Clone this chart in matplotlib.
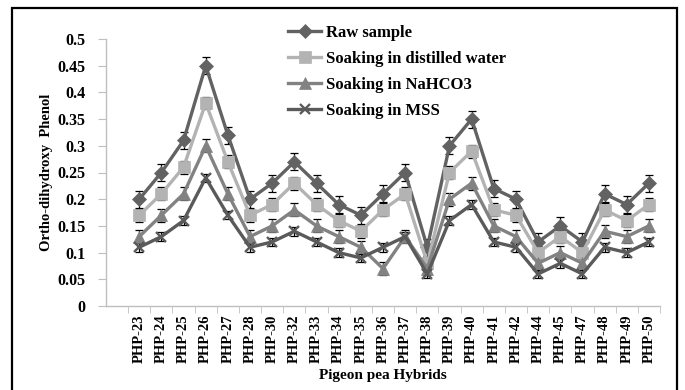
#!/usr/bin/env python3

"""
ORTHO-DIHYDROXY PHENOL IN PIGEON PEA HYBRIDS

(line chart with error bars, four soaking treatments)
"""

import matplotlib

matplotlib.use("Agg")
import matplotlib.pyplot as plt
from matplotlib.patches import Rectangle

hybrids = [
    "PHP-23", "PHP-24", "PHP-25", "PHP-26", "PHP-27", "PHP-28", "PHP-30", "PHP-32",
    "PHP-33", "PHP-34", "PHP-35", "PHP-36", "PHP-37", "PHP-38", "PHP-39", "PHP-40",
    "PHP-41", "PHP-42", "PHP-44", "PHP-45", "PHP-47", "PHP-48", "PHP-49", "PHP-50",
]

raw_sample = [0.20, 0.25, 0.31, 0.45, 0.32, 0.20, 0.23, 0.27, 0.23, 0.19, 0.17, 0.21,
              0.25, 0.11, 0.30, 0.35, 0.22, 0.20, 0.12, 0.15, 0.12, 0.21, 0.19, 0.23]
distilled = [0.17, 0.21, 0.26, 0.38, 0.27, 0.17, 0.19, 0.23, 0.19, 0.16, 0.14, 0.18,
             0.21, 0.08, 0.25, 0.29, 0.18, 0.17, 0.10, 0.13, 0.10, 0.18, 0.16, 0.19]
nahco3 = [0.13, 0.17, 0.21, 0.30, 0.21, 0.13, 0.15, 0.18, 0.15, 0.13, 0.11, 0.07,
          0.13, 0.07, 0.20, 0.23, 0.15, 0.13, 0.08, 0.10, 0.08, 0.14, 0.13, 0.15]
mss = [0.11, 0.13, 0.16, 0.24, 0.17, 0.11, 0.12, 0.14, 0.12, 0.10, 0.09, 0.11,
       0.13, 0.06, 0.16, 0.19, 0.12, 0.11, 0.06, 0.08, 0.06, 0.11, 0.10, 0.12]

# (label, values, error, colour, marker, marker size)
series = [
    ("Raw sample", raw_sample, 0.016, "#626262", "D", 7),
    ("Soaking in distilled water", distilled, 0.012, "#b3b3b3", "s", 8.5),
    ("Soaking in NaHCO3", nahco3, 0.012, "#828282", "^", 8.5),
    ("Soaking in MSS", mss, 0.008, "#5a5a5a", "x", 7),
]

serif = ["Liberation Serif", "DejaVu Serif"]
plt.rcParams["font.family"] = serif
plt.rcParams["font.weight"] = "bold"

fig = plt.figure(figsize=(6.85, 3.9), dpi=100)
ax = fig.add_axes([106 / 685, 1 - 306 / 390, 554 / 685, 267 / 390])

x = list(range(len(hybrids)))
for label, vals, err, colour, marker, ms in series:
    ax.errorbar(x, vals, yerr=err, fmt="none", ecolor="black", elinewidth=0.9,
                capsize=3, capthick=0.9, zorder=2)
    ax.plot(x, vals, color=colour, linewidth=2.4, marker=marker, markersize=ms,
            markeredgewidth=1.7 if marker == "x" else 0.5, markeredgecolor=colour,
            label=label, zorder=3)

ax.set_xlim(-1.5, len(hybrids) - 0.5)
ax.set_ylim(0, 0.5)
ax.set_yticks([i * 0.05 for i in range(11)])
ax.set_yticklabels(["0", "0.05", "0.1", "0.15", "0.2", "0.25", "0.3", "0.35",
                    "0.4", "0.45", "0.5"], fontsize=11.5, fontweight="bold")
ax.set_xticks(x)
ax.set_xticklabels(hybrids, rotation=90, fontsize=10.5, fontweight="bold")
ax.set_xticks([i - 0.5 for i in range(len(hybrids) + 1)], minor=True)
ax.tick_params(axis="x", which="major", length=0, pad=6)
ax.tick_params(axis="x", which="minor", length=5, color="#bfbfbf", direction="out")
ax.tick_params(axis="y", length=6, color="#bfbfbf", direction="out", pad=9)

for side in ("top", "right"):
    ax.spines[side].set_visible(False)
for side in ("left", "bottom"):
    ax.spines[side].set_color("#bfbfbf")
    ax.spines[side].set_linewidth(1)

ax.set_ylabel("Ortho-dihydroxy  Phenol", fontsize=10.5, fontweight="bold", labelpad=3)
ax.set_xlabel("Pigeon pea Hybrids", fontsize=11, fontweight="bold", labelpad=4)

fig.legend(loc="upper left", bbox_to_anchor=(288 / 685, 1 - 25 / 390), frameon=False,
           prop={"family": serif, "weight": "bold", "size": 12},
           handlelength=2.0, handletextpad=0.25, labelspacing=0.6,
           borderpad=0, borderaxespad=0)

# black frame around the whole picture
fig.patches.append(Rectangle((12 / 685, -0.01), 665 / 685, 1 - 8 / 390 + 0.01,
                             transform=fig.transFigure, fill=False,
                             edgecolor="black", linewidth=1.6))

fig.savefig("out.png", dpi=100)
